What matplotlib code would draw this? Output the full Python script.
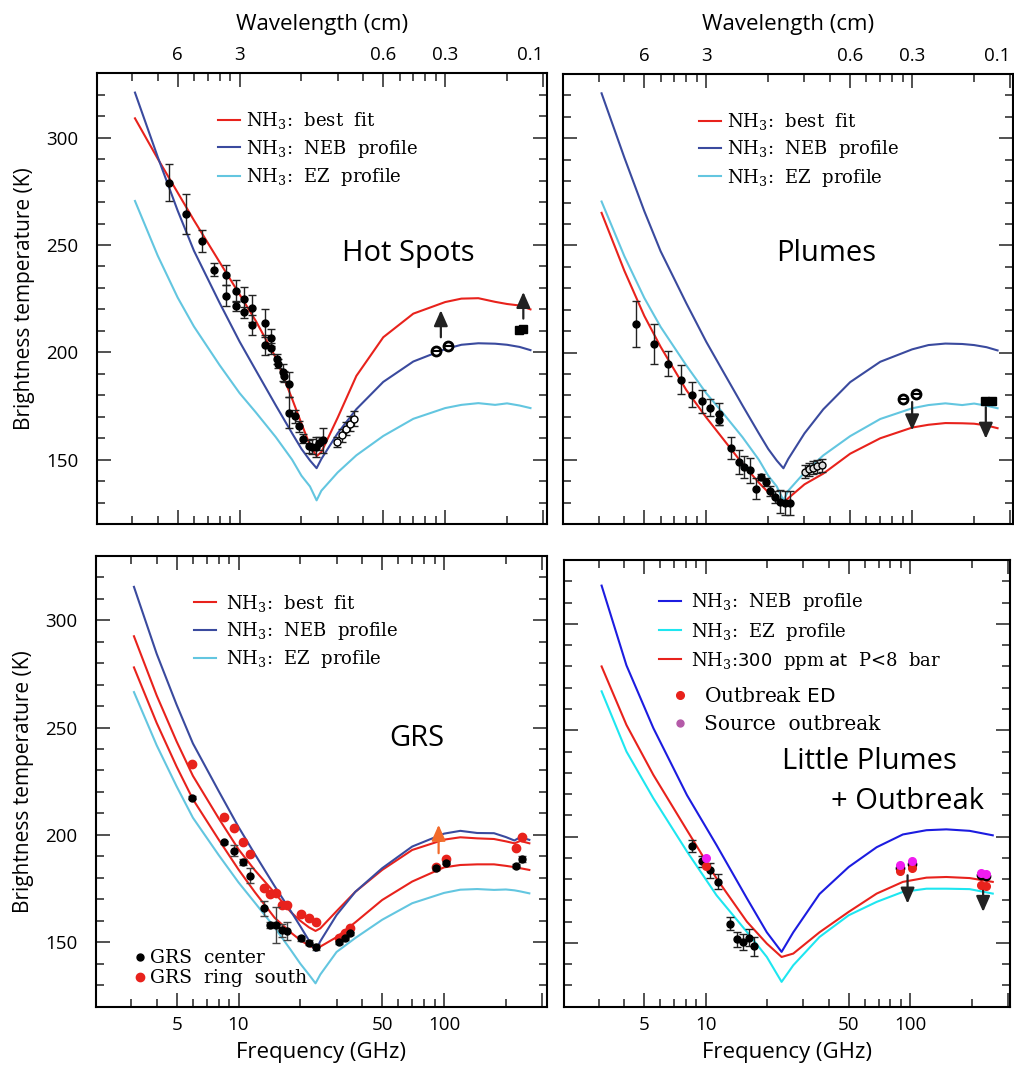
import matplotlib
matplotlib.use('Agg')
import matplotlib.pyplot as plt
from matplotlib.ticker import FixedLocator, NullFormatter
import numpy as np

plt.rcParams['font.family'] = ['Open Sans', 'DejaVu Sans']
plt.rcParams['mathtext.fontset'] = 'dejavuserif'

RED = '#e8221c'
NEB = '#3a4a9e'
EZ = '#63c6e0'
NEB_LP = '#1c1ce0'
EZ_LP = '#1ee6f0'
ORANGE = '#f26a2a'
MAGENTA = '#f01cf0'

# ---- model curves: frequency (GHz) and brightness temperature (K)
freq_model = [3.1, 4, 5, 6, 8, 10, 12, 15, 18, 20, 22, 23.7, 25, 30, 37,
              50, 70, 100, 120, 145, 175, 200, 230, 260]
neb_top = [321, 291, 266, 247.3, 223, 205, 191.6, 175.3, 162.3, 155, 149.6, 146,
           150.3, 162.3, 173.5, 186.2, 195.7, 201.5, 203.5, 204.2, 204, 203.5, 202.5, 201]
ez_top = [270.5, 245, 225.5, 212, 194, 181, 172, 160.5, 150, 142.5, 137.5, 131,
          135.5, 144, 152, 161, 169, 174, 175.5, 176.3, 175.5, 176.2, 175.2, 174]
hot_best = [309, 290.2, 274.4, 261.5, 242, 227, 214.6, 197.5, 178.4, 166.8, 156.7, 151.6,
            153.5, 169.5, 189, 207, 218, 223.4, 225, 225.2, 223.5, 222.5, 221.8, 220]
plume_best = [265.2, 238.2, 217.1, 202.7, 182.5, 169.7, 160, 148.1, 139.3, 134.8, 131.8, 129.8,
              132, 138.5, 143.5, 152.8, 160, 165, 166.3, 167.1, 167, 166.8, 166, 164.7]

freq_grs = [3.1, 4, 5, 6, 8, 10, 12, 15, 18, 20, 22, 23.7, 25, 30, 37,
            50, 70, 100, 120, 145, 175, 200, 220, 235, 260]
grs_neb = [315.5, 284.3, 260.6, 242.6, 220.5, 203.7, 191.1, 176.1, 164.4, 157.4, 150.9, 146,
           150.5, 162.7, 173.5, 184.5, 194.6, 200.6, 201.9, 200.9, 200.8, 199, 197.4, 199, 197.7]
grs_ez = [266.5, 241.7, 222.6, 208, 190.7, 177.9, 168.5, 156.9, 146.3, 140, 135, 130.9,
          135, 145.5, 152, 160.5, 168.2, 173, 174.5, 174.8, 174.4, 174.6, 174.2, 173.7, 172.8]
grs_best_hi = [292.5, 264.9, 243.5, 227.5, 207.8, 193.3, 183.6, 173, 164, 160, 157, 155.3,
               156.5, 164.5, 173.5, 183.7, 193, 197.8, 198.9, 198.4, 198.1, 197, 196.1, 197.2, 196.1]
grs_best_lo = [278, 252.1, 231.8, 216.6, 197.9, 183.9, 173.4, 161.4, 154.5, 151, 148.5, 147.2,
               148, 152.4, 159.3, 169.7, 178.3, 184.9, 186, 186.3, 186.3, 185.6, 185, 184.5, 183.7]

freq_lp = [3.1, 4.1, 5.55, 8.1, 11.3, 15.9, 19.9, 23.5, 26.8, 36, 50, 68.5, 92, 120, 150, 195, 253]
lp_neb = [318, 280.5, 251, 219.5, 196, 171, 155, 145.8, 155, 173, 185.7, 195, 201, 203, 203.4, 202.7, 200.6]
lp_ez = [268.3, 240, 218, 193, 172.4, 155.2, 143.4, 131.7, 139.5, 152.8, 163, 169.3, 174, 175.5, 175.5, 175.3, 173.2]
lp_300ppm = [280, 252.5, 229, 203, 180.3, 160, 149.7, 143.4, 145, 155, 164.6, 173.2, 178.7, 180.7, 181, 180.5, 178.7]

# ---- Hot Spots observations
hot_f = [4.55, 5.50, 6.56, 7.53, 8.58, 8.58, 9.56, 9.56, 10.5, 10.5, 11.52, 11.52, 13.28, 13.28,
         14.3, 14.3, 15.18, 15.4, 16.24, 16.5, 17.44, 17.44, 18.51, 19.5, 20.46, 21.66, 22.6, 23.5,
         24.4, 25.6]
hot_T = [279.0, 264.6, 251.9, 238.5, 235.9, 226.4, 228.6, 221.7, 224.8, 218.6, 220.5, 212.7, 213.7,
         203.4, 206.7, 201.9, 196.9, 194.7, 190.7, 188.8, 185.1, 171.9, 170.2, 165.5, 159.8, 156.2,
         155.9, 155.9, 157.5, 159.0]
hot_err = [8.5, 9.3, 5, 3, 4.7, 5, 5, 2.3, 5.4, 2.5, 6.2, 4.7, 6.4, 4.7, 4, 2.5, 2.3, 2, 3.9, 2.5,
           5.9, 7.3, 3.1, 2.6, 2, 3, 3.5, 4.5, 3, 5.8]
hot_open_f = [29.7, 31.4, 32.9, 34.5, 36.2]
hot_open_T = [158.2, 161.3, 164.4, 166.8, 169.1]
hot_open_err = [2.5, 3, 3, 3.5, 3.5]
hot_mm_f = [90.3, 102.9]
hot_mm_T = [200.5, 202.8]
hot_sq_f = [227.5, 240]
hot_sq_T = [210.6, 211]
hot_arrow_f = [95.3, 240]
hot_arrow_from = [207, 215.7]
hot_arrow_to = [219.6, 228.1]

# ---- Plumes observations
pl_f = [4.57, 5.55, 6.51, 7.56, 8.55, 9.56, 10.45, 11.52, 11.52, 13.23, 14.36, 15.24, 16.37, 17.5,
        18.51, 19.57, 20.5, 21.5, 22.75, 24.1, 25.4]
pl_T = [213.4, 204.0, 194.7, 187.3, 180.4, 177.3, 174.2, 171.4, 168.6, 155.4, 148.9, 146.6, 145.0,
        136.5, 141.9, 139.6, 135.4, 132.6, 130.3, 129.8, 129.8]
pl_err = [10.7, 9.3, 5.8, 6.7, 5.8, 5.4, 3.9, 5.1, 2.5, 5, 5.8, 5, 5.8, 5, 1.5, 2, 2.3, 2.8,
          5.4, 5.4, 5.4]
pl_open_f = [30.1, 31.6, 33.0, 34.6, 36.5]
pl_open_T = [144.3, 145.5, 146.3, 146.9, 147.4]
pl_mm_f = [90.3, 104]
pl_mm_T = [178.4, 180.7]
pl_sq_f = [225.5, 243]
pl_sq_T = [177.2, 177.2]
pl_arrow_f = [100, 228]
pl_arrow_from = [176.9, 174.5]
pl_arrow_to = [163.7, 159.8]

# ---- GRS observations
grs_f = [5.93, 8.52, 9.56, 10.5, 11.4, 13.24, 14.26, 15.26, 16.26, 17.3, 20.1, 22.1, 23.9,
         31.0, 33.1, 35.0, 91.3, 102.6, 224, 239.7]
grs_center_T = [217.4, 196.6, 192.7, 187.3, 181.1, 165.8, 158.1, 158.1, 155.7, 155.3, 151.9,
                149.8, 147.8, 150, 151.9, 154.2, 184.5, 187.1, 185.6, 188.8]
grs_center_err = [0.8, 0.8, 2.6, 1.5, 3.6, 3.6, 1.5, 8.3, 3, 4.2, 1.2, 1.2, 1.2, 0.8, 0.8, 0.8,
                  0.8, 0.8, 0.8, 1.2]
grs_ring_T = [233.2, 208.5, 203.1, 196.9, 191, 175.2, 172.4, 173.1, 167.4, 167.4, 163, 161.5,
              159.6, 152.2, 154.2, 156.5, 185.2, 188.8, 193.8, 198.9]
grs_arrow_f = [94.1]
grs_arrow_from = [191.5]
grs_arrow_to = [204.7]

# ---- Little Plumes + Outbreak observations
lp_f = [8.54, 9.56, 10.5, 11.5, 13.15, 14.2, 15.16, 16.2, 17.3]
lp_T = [195.6, 188.4, 184.2, 178.7, 159.1, 151.7, 150.5, 152.5, 148.4]
lp_err = [2.7, 2.5, 3.5, 3.5, 3.1, 3.5, 3.9, 3.9, 4.5]
ob_f = [10, 89, 101.5, 220.6, 234.3]
ob_ed_T = [186.2, 183.7, 185, 177.4, 176.8]
ob_src_T = [190.1, 186.5, 188.4, 182.9, 182.6]
ob_blk_f = [89, 101.5, 220.6, 234.3]
ob_blk_T = [185.3, 187.3, 181.8, 181.6]
lp_arrow_f = [97, 227]
lp_arrow_from = [181.8, 177.9]
lp_arrow_to = [168.5, 164.6]

# ---- axis ticks
major_freq = [5, 10, 50, 100, 300]
minor_freq = [3, 4, 6, 7, 8, 9, 20, 30, 40, 60, 70, 80, 90, 200]
wave_labels = ['6', '3', '0.6', '0.3', '0.1']
freq_labels = ['5', '10', '50', '100', '']

serif = dict(family='DejaVu Serif', size=13)


def setup(ax, top, left, xlim):
    ax.set_xscale('log')
    ax.set_xlim(*xlim)
    ax.set_ylim(120, 330)
    ax.xaxis.set_major_locator(FixedLocator(major_freq))
    ax.xaxis.set_minor_locator(FixedLocator(minor_freq))
    ax.xaxis.set_minor_formatter(NullFormatter())
    ax.set_xticklabels(wave_labels if top else freq_labels)
    ax.set_yticks([150, 200, 250, 300])
    ax.set_yticks(np.arange(130, 330, 10), minor=True)
    ax.tick_params(which='both', direction='in', top=True, right=True,
                   width=1.2, color='#333333', labelsize=13.5,
                   labeltop=top, labelbottom=not top, labelleft=left)
    ax.tick_params(which='major', length=10)
    ax.tick_params(which='minor', length=5.5)
    ax.tick_params(axis='x', pad=6.5)
    ax.tick_params(axis='y', pad=13)
    for sp in ax.spines.values():
        sp.set_linewidth(1.5)
    if top:
        # the 0.1 cm label sits left of its tick, like the original
        ax.xaxis.get_major_ticks()[-1].label2.set_horizontalalignment('right')
        ax.xaxis.set_label_position('top')
        ax.set_xlabel('Wavelength (cm)', fontsize=16, labelpad=12)
    else:
        ax.set_xlabel('Frequency (GHz)', fontsize=16, labelpad=6)
    if left:
        ax.set_ylabel('Brightness temperature (K)', fontsize=15, labelpad=8)


def obs(ax, f, T, err, **kw):
    ax.errorbar(f, T, yerr=err, fmt='o', color='k', ecolor='#222222', ms=5,
                elinewidth=1, capsize=3, capthick=1, zorder=5, **kw)


def arrows(ax, f, t0, t1, color='#222222'):
    for x, a, b in zip(f, t0, t1):
        ax.annotate('', xy=(x, b), xytext=(x, a),
                    arrowprops=dict(arrowstyle='-|>,head_length=0.95,head_width=0.42',
                                    color=color, lw=1.6, shrinkA=0, shrinkB=0,
                                    mutation_scale=10), zorder=6)


def mm_points(ax, f, T):
    ax.plot(f, T, 'o', mfc='white', mec='k', mew=2, ms=6.5, zorder=5)
    ax.plot(f, T, '_', color='k', mew=1.5, ms=6.5, zorder=6)


fig = plt.figure(figsize=(10.14, 10.65), dpi=100)
ax_hot = fig.add_axes([0.0954, 0.5080, 0.4438, 0.4232])
ax_pl = fig.add_axes([0.5555, 0.5080, 0.4438, 0.4225])
ax_grs = fig.add_axes([0.0944, 0.0547, 0.4448, 0.4235])
ax_lp = fig.add_axes([0.5562, 0.0547, 0.4398, 0.4194])

setup(ax_hot, True, True, (2.02, 312))
setup(ax_pl, True, False, (2.02, 310))
setup(ax_grs, False, True, (2.02, 316))
setup(ax_lp, False, False, (2.03, 307))

# Hot Spots
l1, = ax_hot.plot(freq_model, hot_best, color=RED, lw=1.5, label=r'NH$_3$:  best  fit')
l2, = ax_hot.plot(freq_model, neb_top, color=NEB, lw=1.5, label=r'NH$_3$:  NEB  profile')
l3, = ax_hot.plot(freq_model, ez_top, color=EZ, lw=1.5, label=r'NH$_3$:  EZ  profile')
obs(ax_hot, hot_f, hot_T, hot_err)
ax_hot.errorbar(hot_open_f, hot_open_T, yerr=hot_open_err, fmt='o', mfc='white', mec='k',
                ecolor='#222222', ms=5, elinewidth=1, capsize=3, zorder=5)
mm_points(ax_hot, hot_mm_f, hot_mm_T)
ax_hot.plot(hot_sq_f, hot_sq_T, 's', color='k', ms=5.5, zorder=5)
arrows(ax_hot, hot_arrow_f, hot_arrow_from, hot_arrow_to)
ax_hot.legend(handles=[l1, l2, l3], loc='upper left', bbox_to_anchor=(0.27, 0.918),
              frameon=False, prop=serif, handlelength=1.2, handletextpad=0.35,
              labelspacing=0.35, borderpad=0, borderaxespad=0)
ax_hot.text(0.692, 0.601, 'Hot Spots', transform=ax_hot.transAxes, fontsize=21,
            ha='center', va='center')

# Plumes
l1, = ax_pl.plot(freq_model, plume_best, color=RED, lw=1.5, label=r'NH$_3$:  best  fit')
l2, = ax_pl.plot(freq_model, neb_top, color=NEB, lw=1.5, label=r'NH$_3$:  NEB  profile')
l3, = ax_pl.plot(freq_model, ez_top, color=EZ, lw=1.5, label=r'NH$_3$:  EZ  profile')
obs(ax_pl, pl_f, pl_T, pl_err)
ax_pl.errorbar(pl_open_f, pl_open_T, yerr=3, fmt='o', mfc='#dddddd', mec='k',
               ecolor='#222222', ms=5, elinewidth=1, capsize=3, zorder=5)
mm_points(ax_pl, pl_mm_f, pl_mm_T)
ax_pl.plot(pl_sq_f, pl_sq_T, 's', color='k', ms=5.5, zorder=5)
arrows(ax_pl, pl_arrow_f, pl_arrow_from, pl_arrow_to)
ax_pl.legend(handles=[l1, l2, l3], loc='upper left', bbox_to_anchor=(0.302, 0.918),
             frameon=False, prop=serif, handlelength=1.2, handletextpad=0.35,
             labelspacing=0.35, borderpad=0, borderaxespad=0)
ax_pl.text(0.585, 0.601, 'Plumes', transform=ax_pl.transAxes, fontsize=21,
           ha='center', va='center')

# GRS
l1, = ax_grs.plot(freq_grs, grs_best_hi, color=RED, lw=1.5, label=r'NH$_3$:  best  fit')
ax_grs.plot(freq_grs, grs_best_lo, color=RED, lw=1.5)
l2, = ax_grs.plot(freq_grs, grs_neb, color=NEB, lw=1.5, label=r'NH$_3$:  NEB  profile')
l3, = ax_grs.plot(freq_grs, grs_ez, color=EZ, lw=1.5, label=r'NH$_3$:  EZ  profile')
m2, = ax_grs.plot(grs_f, grs_ring_T, 'o', color=RED, ms=6, zorder=5, label='GRS  ring  south')
m1 = ax_grs.errorbar(grs_f, grs_center_T, yerr=grs_center_err, fmt='o', color='k',
                     ecolor='#444444', ms=5, elinewidth=1, capsize=3, zorder=6,
                     label='GRS  center')
arrows(ax_grs, grs_arrow_f, grs_arrow_from, grs_arrow_to, color=ORANGE)
leg = ax_grs.legend(handles=[l1, l2, l3], loc='upper left', bbox_to_anchor=(0.218, 0.918),
                    frameon=False, prop=serif, handlelength=1.2, handletextpad=0.55,
                    labelspacing=0.35, borderpad=0, borderaxespad=0)
ax_grs.add_artist(leg)
h_center = plt.Line2D([], [], ls='none', marker='o', color='k', ms=5)
ax_grs.legend(handles=[h_center, m2], labels=['GRS  center', 'GRS  ring  south'],
              loc='lower left', bbox_to_anchor=(0.086, 0.043),
              frameon=False, prop=dict(family='DejaVu Serif', size=13.5), handlelength=0.6,
              handletextpad=0.25, labelspacing=0.1, borderpad=0, borderaxespad=0)
ax_grs.text(0.712, 0.594, 'GRS', transform=ax_grs.transAxes, fontsize=21,
            ha='center', va='center')

# Little Plumes + Outbreak
l1, = ax_lp.plot(freq_lp, lp_neb, color=NEB_LP, lw=1.5, label=r'NH$_3$:  NEB  profile')
l2, = ax_lp.plot(freq_lp, lp_ez, color=EZ_LP, lw=1.5, label=r'NH$_3$:  EZ  profile')
l3, = ax_lp.plot(freq_lp, lp_300ppm, color=RED, lw=1.5,
                 label=r'NH$_3$:$\mathsf{300}$  ppm $\mathsf{at}$  P<8  bar')
obs(ax_lp, lp_f, lp_T, lp_err)
ax_lp.plot(ob_blk_f, ob_blk_T, 'o', color='k', ms=6, zorder=6)
m1, = ax_lp.plot(ob_f, ob_ed_T, 'o', color=RED, ms=5.5, zorder=7, label=r'Outbreak $\mathsf{ED}$')
m2, = ax_lp.plot(ob_f, ob_src_T, 'o', color=MAGENTA, ms=5.5, zorder=7, label='Source  outbreak')
arrows(ax_lp, lp_arrow_f, lp_arrow_from, lp_arrow_to)
leg = ax_lp.legend(handles=[l1, l2, l3], loc='upper left', bbox_to_anchor=(0.213, 0.93),
                   frameon=False, prop=serif, handlelength=1.2, handletextpad=0.55,
                   labelspacing=0.4, borderpad=0, borderaxespad=0)
ax_lp.add_artist(leg)
h_src = plt.Line2D([], [], ls='none', marker='o', color='#b45aa8', ms=5)
ax_lp.legend(handles=[m1, h_src], labels=[m1.get_label(), m2.get_label()], loc='upper left',
             bbox_to_anchor=(0.24, 0.716), frameon=False,
             prop=dict(family='DejaVu Serif', size=14.5), handlelength=0.9,
             handletextpad=0.75, labelspacing=0.45, borderpad=0, borderaxespad=0)
ax_lp.text(0.684, 0.548, 'Little Plumes', transform=ax_lp.transAxes, fontsize=21,
           ha='center', va='center')
ax_lp.text(0.771, 0.459, '+ Outbreak', transform=ax_lp.transAxes, fontsize=21,
           ha='center', va='center')

fig.savefig('out.png', dpi=100)
